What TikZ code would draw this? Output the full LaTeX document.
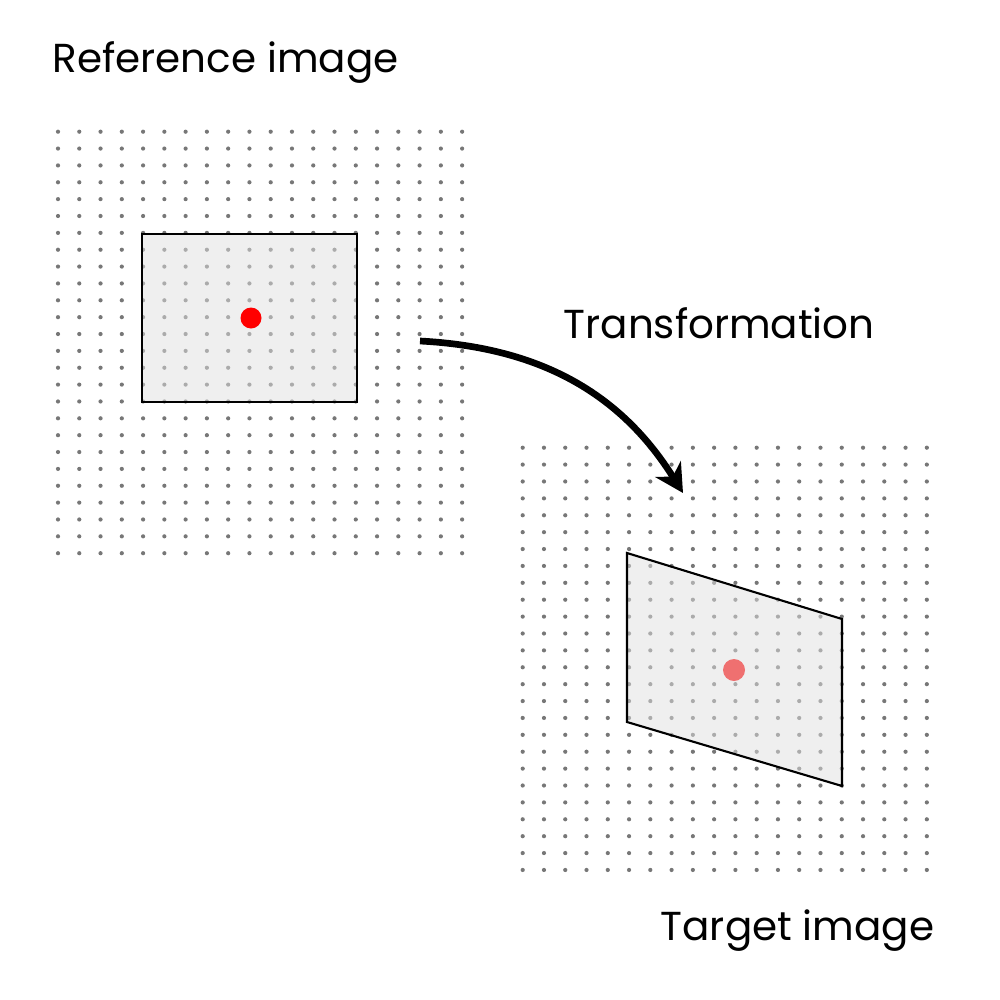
\documentclass[tikz,border=0pt]{standalone}
\usepackage{fontspec}
\setmainfont{Poppins}
\usetikzlibrary{arrows.meta}

\definecolor{dotgray}{RGB}{119,119,119}
\definecolor{patchgray}{RGB}{224,224,224}

\begin{document}
\begin{tikzpicture}[x=0.01cm, y=-0.01cm,
   gridDot/.style={fill=dotgray},
   patch/.style={draw=black, line width=0.6pt, fill=patchgray, fill opacity=0.5},
   centre/.style={fill=red},
   caption/.style={anchor=base west, inner sep=0pt, font=\fontsize{11.5}{13}\selectfont},
   warp/.style={line width=1.9pt, -{Stealth[length=8pt, width=8.5pt, inset=2.5pt]}}]
\useasboundingbox (0,0) rectangle (1000,1000);
% dot grids
\foreach \i in {0,...,19}
   \foreach \j in {0,...,25}{
      \fill[gridDot] (58+21.27*\i, 131.7+16.86*\j) circle (2.1);
      \fill[gridDot] (522.7+21.27*\i, 447.7+16.89*\j) circle (2.1);
   }
% reference patch
\draw[patch] (142,234) rectangle (357,402);
\fill[centre] (251,318) circle (10.5);
% target patch, dot under the fill
\fill[centre] (734,670) circle (11);
\draw[patch] (627,553) -- (842,619) -- (842,786) -- (627,722) -- cycle;
% labels
\node[caption] (refLabel) at (52,72) {Reference image};
\node[caption] (warpLabel) at (563,338) {Transformation};
\node[caption] (tgtLabel) at (660,940) {Target image};
% arrow
\coordinate (warpFrom) at (420,341);
\coordinate (warpTo) at (683,493);
\draw[warp] (warpFrom) to[out=-3, in=122] (warpTo);
\end{tikzpicture}
\end{document}
